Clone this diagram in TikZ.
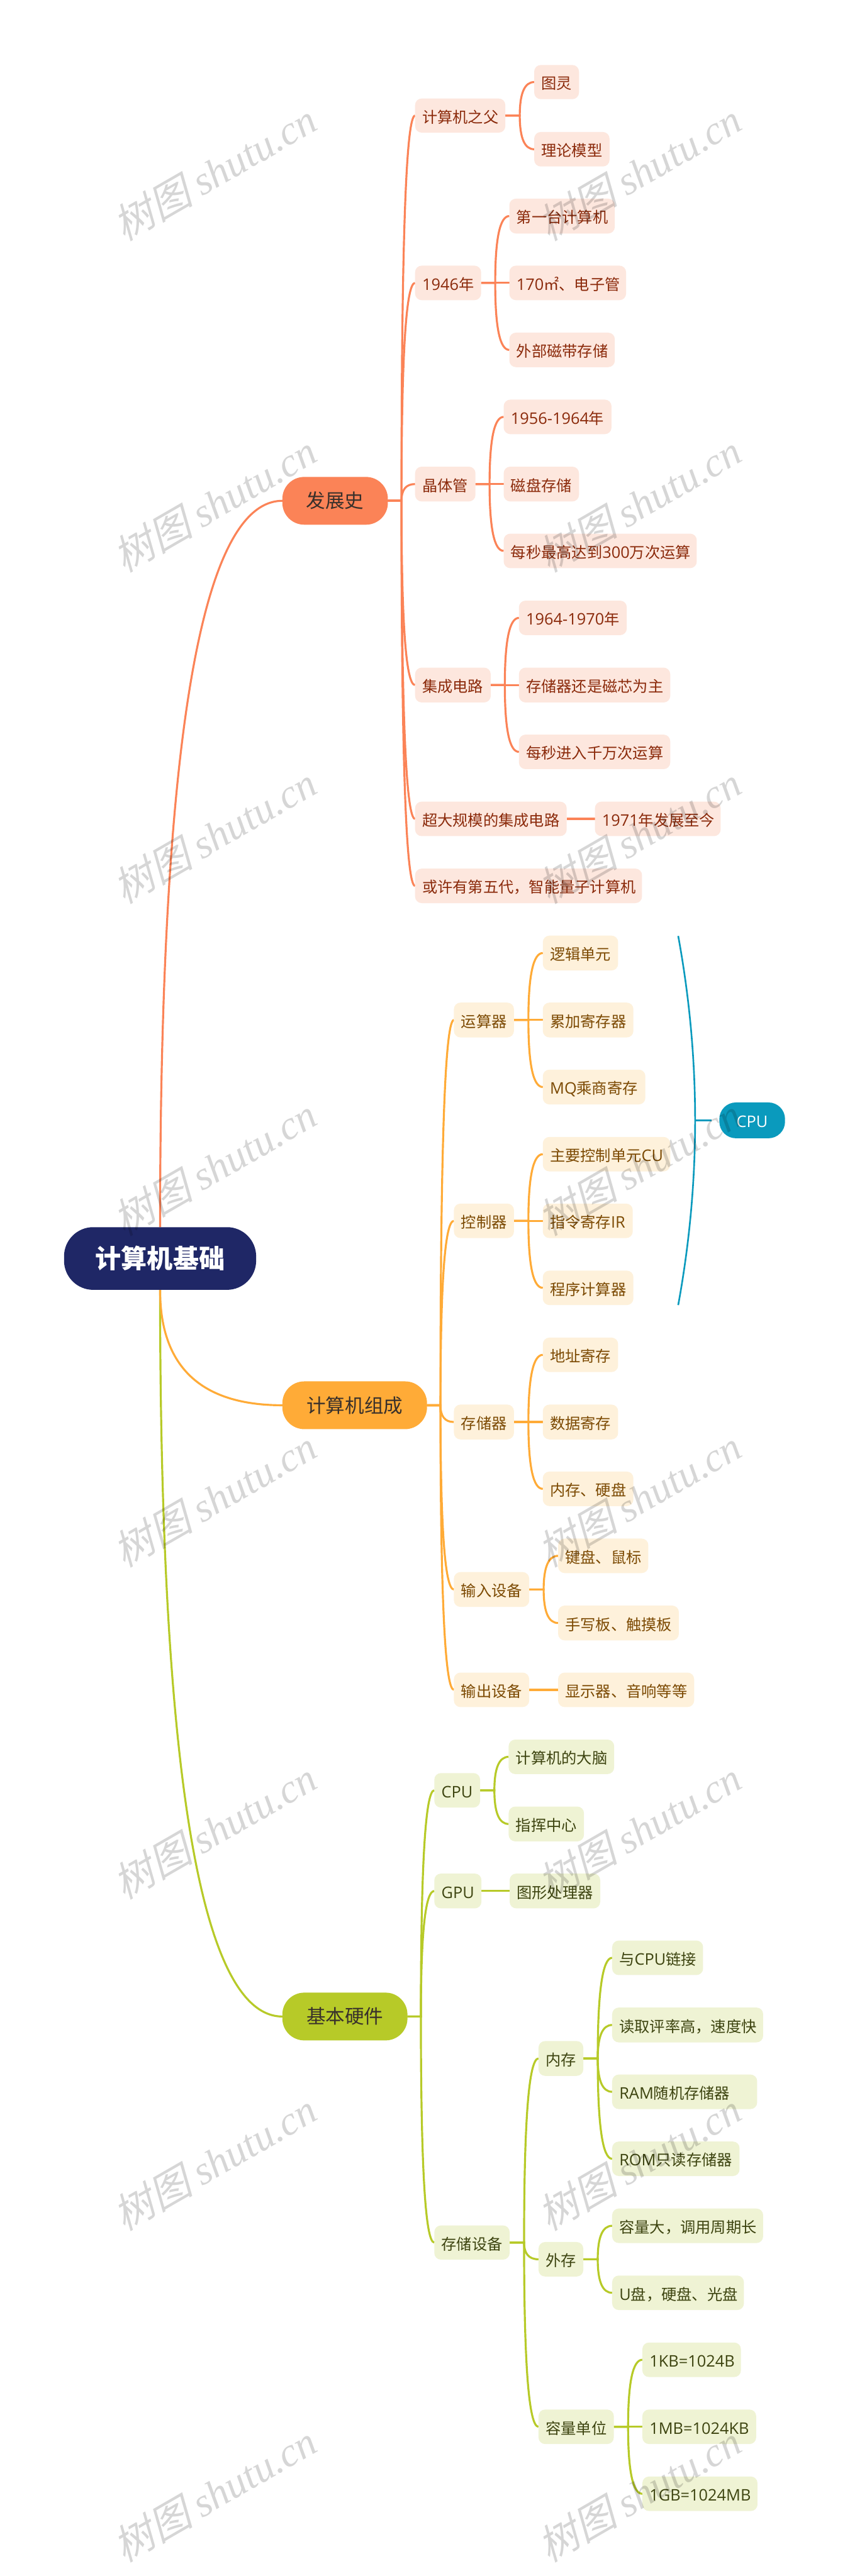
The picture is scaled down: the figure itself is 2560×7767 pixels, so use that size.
\documentclass[tikz,border=0pt]{standalone}
\usepackage{fontspec}
\setmainfont{Noto Sans CJK SC}
\newfontfamily\wmcjk[FakeSlant=0.25]{Noto Sans CJK SC}
\newfontfamily\wmlat{Liberation Serif}
\newfontfamily\latf[Scale=1.045]{Open Sans}
\newcommand{\Lt}[1]{{\latf #1}}
\newcommand{\vfix}{\rule[-20pt]{0pt}{83pt}}
\usetikzlibrary{calc}
\definecolor{cO}{HTML}{FB8357}
\definecolor{cY}{HTML}{FFAB37}
\definecolor{cG}{HTML}{B7CA28}
\definecolor{cT}{HTML}{0A9ABD}
\definecolor{cR}{HTML}{1F2766}
\definecolor{fO}{HTML}{FDE7DE}
\definecolor{fY}{HTML}{FEF1DB}
\definecolor{fG}{HTML}{EFF3D4}
\definecolor{tO}{HTML}{8B2A0B}
\definecolor{tY}{HTML}{7C4A03}
\definecolor{tG}{HTML}{3D4410}
\definecolor{tD}{HTML}{38302B}
\tikzset{
  boxbase/.style={inner sep=0pt,outer sep=0pt,rectangle},
  leaf/.style={boxbase,rounded corners=20pt,align=left,font=\fontsize{46}{54}\selectfont},
  leafO/.style={leaf,fill=fO,text=tO},
  leafY/.style={leaf,fill=fY,text=tY},
  leafG/.style={leaf,fill=fG,text=tG},
  major/.style={boxbase,rounded corners=66pt,text=tD,font=\fontsize{58}{68}\selectfont},
  majorO/.style={major,fill=cO},
  majorY/.style={major,fill=cY},
  majorG/.style={major,fill=cG},
  rootbox/.style={boxbase,rounded corners=88pt,fill=cR,text=white,font=\fontsize{78}{90}\selectfont\bfseries},
  tealbox/.style={boxbase,rounded corners=50pt,fill=cT,text=white,font=\fontsize{46}{54}\selectfont},
  linkO/.style={draw=cO,line width=6pt},
  linkY/.style={draw=cY,line width=6pt},
  linkG/.style={draw=cG,line width=6pt},
  linkT/.style={draw=cT,line width=5pt},
  stubT/.style={draw=cT,line width=7pt},
  wmark/.style={inner sep=0pt,rotate=30,text=black,text opacity=.16,font=\fontsize{122}{136}\selectfont},
}
% leaf box: style, name, x1, x2, y1, y2, text
\newcommand{\lf}[7]{%
  \pgfmathsetmacro\ww{#4-#3}\pgfmathsetmacro\hh{#6-#5}\pgfmathsetmacro\tw{#4-#3-43}%
  \node[#1,minimum width=\ww pt,minimum height=\hh pt,text width=\tw pt] (#2) at ({(#3+#4)/2},{(#5+#6)/2}) {\mbox{\vfix#7}};}
% centred box
\newcommand{\cb}[7]{%
  \pgfmathsetmacro\ww{#4-#3}\pgfmathsetmacro\hh{#6-#5}%
  \node[#1,minimum width=\ww pt,minimum height=\hh pt] (#2) at ({(#3+#4)/2},{(#5+#6)/2}) {#7};}
% curve from a start anchor (vertical tangent) to a child's west side
\newcommand{\swoop}[3]{%
  \draw[#1] let \p1=(#2),\p2=(#3.west),\n2={\y1+2/3*(\y2-\y1)},\n3={\x2+2/3*(\x1-\x2)} in
    (\p1) .. controls (\x1,\n2) and (\n3,\y2) .. (\p2);}
% parent stub to a bus half way to the children, then curves to each child
\newcommand{\kids}[3]{%
  \foreach \kid in {#3}{%
    \draw[#1] let \p1=(#2.east),\p2=(\kid.west),\n1={(\x1+\x2)/2},\n2={\y1+2/3*(\y2-\y1)},\n3={\x2+2/3*(\n1-\x2)} in
      (\p1) -- (\n1,\y1) .. controls (\n1,\n2) and (\n3,\y2) .. (\p2);
  }}
\begin{document}
\begin{tikzpicture}[x=1pt,y=-1pt]
\path[use as bounding box,fill=white] (0,0) rectangle (2560,7767);

\pgfdeclarelayer{boxes}\pgfdeclarelayer{marks}
\pgfsetlayers{main,boxes,marks}
\begin{pgfonlayer}{boxes}
\cb{rootbox}{root}{193}{772}{3700}{3889}{计算机基础}

\cb{majorO}{fz}{851}{1169}{1438}{1582}{发展史}
\lf{leafO}{a1}{1251}{1523}{297}{400}{计算机之父}
\lf{leafO}{a11}{1610}{1745}{196}{299}{图灵}
\lf{leafO}{a12}{1610}{1837}{398}{502}{理论模型}
\lf{leafO}{a2}{1251}{1450}{801}{905}{\Lt{1946}年}
\lf{leafO}{a21}{1535}{1853}{599}{704}{第一台计算机}
\lf{leafO}{a22}{1535}{1887}{801}{905}{\Lt{170}㎡、电子管}
\lf{leafO}{a23}{1535}{1853}{1003}{1107}{外部磁带存储}
\lf{leafO}{a3}{1251}{1433}{1407}{1512}{晶体管}
\lf{leafO}{a31}{1518}{1843}{1205}{1309}{\Lt{1956-1964}年}
\lf{leafO}{a32}{1518}{1745}{1407}{1512}{磁盘存储}
\lf{leafO}{a33}{1518}{2100}{1609}{1713}{每秒最高达到\Lt{300}万次运算}
\lf{leafO}{a4}{1251}{1479}{2013}{2118}{集成电路}
\lf{leafO}{a41}{1564}{1889}{1811}{1915}{\Lt{1964-1970}年}
\lf{leafO}{a42}{1564}{2020}{2013}{2118}{存储器还是磁芯为主}
\lf{leafO}{a43}{1564}{2020}{2215}{2319}{每秒进入千万次运算}
\lf{leafO}{a5}{1251}{1708}{2417}{2521}{超大规模的集成电路}
\lf{leafO}{a51}{1793}{2172}{2417}{2521}{\Lt{1971}年发展至今}
\lf{leafO}{a6}{1251}{1935}{2619}{2723}{或许有第五代，智能量子计算机}

\cb{majorY}{zc}{851}{1287}{4165}{4309}{计算机组成}
\lf{leafY}{b1}{1368}{1549}{3023}{3128}{运算器}
\lf{leafY}{b11}{1636}{1863}{2821}{2926}{逻辑单元}
\lf{leafY}{b12}{1636}{1909}{3023}{3128}{累加寄存器}
\lf{leafY}{b13}{1636}{1945}{3225}{3330}{\Lt{MQ}乘商寄存}
\lf{leafY}{b2}{1368}{1549}{3629}{3733}{控制器}
\lf{leafY}{b21}{1636}{2020}{3428}{3532}{主要控制单元\Lt{CU}}
\lf{leafY}{b22}{1636}{1907}{3629}{3733}{指令寄存\Lt{IR}}
\lf{leafY}{b23}{1636}{1909}{3831}{3935}{程序计算器}
\lf{leafY}{b3}{1368}{1549}{4235}{4340}{存储器}
\lf{leafY}{b31}{1636}{1863}{4033}{4137}{地址寄存}
\lf{leafY}{b32}{1636}{1863}{4235}{4340}{数据寄存}
\lf{leafY}{b33}{1636}{1909}{4437}{4541}{内存、硬盘}
\lf{leafY}{b4}{1368}{1595}{4740}{4845}{输入设备}
\lf{leafY}{b41}{1682}{1954}{4639}{4743}{键盘、鼠标}
\lf{leafY}{b42}{1682}{2046}{4841}{4946}{手写板、触摸板}
\lf{leafY}{b5}{1368}{1595}{5043}{5147}{输出设备}
\lf{leafY}{b51}{1682}{2092}{5043}{5147}{显示器、音响等等}
\cb{tealbox}{cpu}{2168}{2366}{3324}{3432}{\vfix\Lt{CPU}}

\cb{majorG}{yj}{851}{1228}{6008}{6152}{基本硬件}
\lf{leafG}{c1}{1309}{1447}{5346}{5450}{\Lt{CPU}}
\lf{leafG}{c11}{1533}{1851}{5245}{5349}{计算机的大脑}
\lf{leafG}{c12}{1533}{1760}{5447}{5552}{指挥中心}
\lf{leafG}{c2}{1309}{1451}{5649}{5754}{\Lt{GPU}}
\lf{leafG}{c21}{1536}{1809}{5649}{5754}{图形处理器}
\lf{leafG}{c3}{1309}{1536}{6710}{6813}{存储设备}
\lf{leafG}{d1}{1623}{1758}{6154}{6259}{内存}
\lf{leafG}{d11}{1845}{2119}{5851}{5955}{与\Lt{CPU}链接}
\lf{leafG}{d12}{1845}{2300}{6053}{6158}{读取评率高，速度快}
\lf{leafG}{d13}{1845}{2282}{6255}{6359}{\Lt{RAM}随机存储器}
\lf{leafG}{d14}{1845}{2229}{6457}{6561}{\Lt{ROM}只读存储器}
\lf{leafG}{d2}{1623}{1758}{6760}{6864}{外存}
\lf{leafG}{d21}{1845}{2300}{6659}{6763}{容量大，调用周期长}
\lf{leafG}{d22}{1845}{2242}{6861}{6965}{\Lt{U}盘，硬盘、光盘}
\lf{leafG}{d3}{1623}{1850}{7265}{7369}{容量单位}
\lf{leafG}{d31}{1936}{2233}{7063}{7167}{\Lt{1KB=1024B}}
\lf{leafG}{d32}{1936}{2279}{7265}{7369}{\Lt{1MB=1024KB}}
\lf{leafG}{d33}{1936}{2283}{7467}{7571}{\Lt{1GB=1024MB}}
\end{pgfonlayer}

% ---------- connectors (main layer, under the boxes)
\swoop{linkO}{root.north}{fz}
\swoop{linkG}{root.south}{yj}
\swoop{linkY}{root.south}{zc}

\kids{linkO}{fz}{a1,a2,a3,a4,a5,a6}
\kids{linkO}{a1}{a11,a12}
\kids{linkO}{a2}{a21,a22,a23}
\kids{linkO}{a3}{a31,a32,a33}
\kids{linkO}{a4}{a41,a42,a43}
\kids{linkO}{a5}{a51}

\kids{linkY}{zc}{b1,b2,b3,b4,b5}
\kids{linkY}{b1}{b11,b12,b13}
\kids{linkY}{b2}{b21,b22,b23}
\kids{linkY}{b3}{b31,b32,b33}
\kids{linkY}{b4}{b41,b42}
\kids{linkY}{b5}{b51}

\kids{linkG}{yj}{c1,c2,c3}
\kids{linkG}{c1}{c11,c12}
\kids{linkG}{c2}{c21}
\kids{linkG}{c3}{d1,d2,d3}
\kids{linkG}{d1}{d11,d12,d13,d14}
\kids{linkG}{d2}{d21,d22}
\kids{linkG}{d3}{d31,d32,d33}

% ---------- summary brace to the CPU node
\coordinate (brtop) at (2044,2822);
\coordinate (brapex) at (2095,3378);
\coordinate (brbot) at (2044,3935);
\draw[linkT] (brtop) .. controls (2078,3007.3) and (2095,3192.7) .. (brapex)
             .. controls (2095,3563.3) and (2078,3749.7) .. (brbot);
\draw[stubT,shorten >=24pt] (brapex) -- (cpu.west);

% ---------- watermark
\begin{pgfonlayer}{marks}
\foreach \row in {0,...,7}{
  \foreach \col in {0,1}{
    \node[wmark,name=wm\row\col] at ({646+1280*\col},{518+1000*\row}) {{\wmcjk 树图} {\wmlat\itshape shutu.cn}};
  }
}
\end{pgfonlayer}
\end{tikzpicture}
\end{document}
